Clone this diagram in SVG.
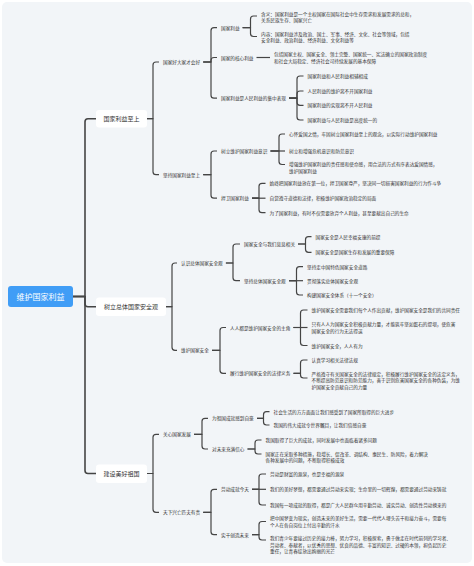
<svg xmlns="http://www.w3.org/2000/svg" width="474" height="566" viewBox="0 0 474 566">
<style>
.ln{fill:none;stroke:#454545;stroke-width:1.2;stroke-linejoin:round}
.l0{stroke-width:1.6}
.t{font-family:"Noto Sans CJK SC","Noto Sans",sans-serif;font-size:4.65px;fill:#333;dominant-baseline:central}
.t1{font-size:6px;text-anchor:middle}
.t0{font-size:8px;fill:#fff;text-anchor:middle}
.box{fill:#fff}
</style>
<rect x="0" y="0" width="474" height="566" fill="#fff"/>
<rect x="2" y="2" width="470" height="561" rx="5" fill="#f2f5f8"/>
<g id="connectors">
<path class="ln l0" d="M73 296.5 H85 V121.7 Q85 118.7 88 118.7 H96"/>
<path class="ln l0" d="M73 296.5 H85 V303.7 Q85 306.7 88 306.7 H96"/>
<path class="ln l0" d="M73 296.5 H85 V470.5 Q85 473.5 88 473.5 H96"/>
<path class="ln" d="M147 118.7 H153 V65 Q153 62 156 62 H159"/>
<path class="ln" d="M147 118.7 H153 V171.7 Q153 174.7 156 174.7 H159"/>
<path class="ln" d="M166 306.7 H172 V266 Q172 263 175 263 H177"/>
<path class="ln" d="M166 306.7 H172 V347.3 Q172 350.3 175 350.3 H177"/>
<path class="ln" d="M147 473.5 H153 V437.3 Q153 434.3 156 434.3 H159"/>
<path class="ln" d="M147 473.5 H153 V509.3 Q153 512.3 156 512.3 H159"/>
<path class="ln" d="M203.2 62 H211 V30.7 Q211 27.7 214 27.7 H217"/>
<path class="ln" d="M203.2 62 H211 V60.5 Q211 57.5 214 57.5 H217"/>
<path class="ln" d="M203.2 62 H211 V95.2 Q211 98.2 214 98.2 H217"/>
<path class="ln" d="M203.2 174.7 H211 V154 Q211 151 214 151 H217"/>
<path class="ln" d="M203.2 174.7 H211 V195.2 Q211 198.2 214 198.2 H217"/>
<path class="ln" d="M225.9 263 H233 V247 Q233 244 236 244 H240"/>
<path class="ln" d="M225.9 263 H233 V277.7 Q233 280.7 236 280.7 H240"/>
<path class="ln" d="M212 350.3 H220 V330.5 Q220 327.5 223 327.5 H226"/>
<path class="ln" d="M212 350.3 H220 V370.3 Q220 373.3 223 373.3 H226"/>
<path class="ln" d="M194 434.3 H202 V421.3 Q202 418.3 205 418.3 H208"/>
<path class="ln" d="M194 434.3 H202 V446 Q202 449 205 449 H208"/>
<path class="ln" d="M203.2 512.3 H211 V492.3 Q211 489.3 214 489.3 H217"/>
<path class="ln" d="M203.2 512.3 H211 V531.7 Q211 534.7 214 534.7 H217"/>
<path class="ln" d="M242.6 27.7 H250.5 V19 Q250.5 16 253.5 16 H257"/>
<path class="ln" d="M242.6 27.7 H250.5 V33.5 Q250.5 36.5 253.5 36.5 H257"/>
<path class="ln" d="M256.5 57.5 H270"/>
<path class="ln" d="M289 98.2 H297 V79 Q297 76 300 76 H303.5"/>
<path class="ln" d="M289 98.2 H297 V94 Q297 91 300 91 H303.5"/>
<path class="ln" d="M289 98.2 H297 V102.3 Q297 105.3 300 105.3 H303.5"/>
<path class="ln" d="M289 98.2 H297 V117 Q297 120 300 120 H303.5"/>
<path class="ln" d="M270.5 151 H279 V137 Q279 134 282 134 H285"/>
<path class="ln" d="M270.5 151 H285"/>
<path class="ln" d="M270.5 151 H279 V161.5 Q279 164.5 282 164.5 H285"/>
<path class="ln" d="M252 198.2 H259 V186.3 Q259 183.3 262 183.3 H265.5"/>
<path class="ln" d="M252 198.2 H265.5"/>
<path class="ln" d="M252 198.2 H259 V209.7 Q259 212.7 262 212.7 H265.5"/>
<path class="ln" d="M298 244 H305.5 V239.7 Q305.5 236.7 308.5 236.7 H311.5"/>
<path class="ln" d="M298 244 H305.5 V249.3 Q305.5 252.3 308.5 252.3 H311.5"/>
<path class="ln" d="M289 280.7 H296.5 V269.7 Q296.5 266.7 299.5 266.7 H303"/>
<path class="ln" d="M289 280.7 H303"/>
<path class="ln" d="M289 280.7 H296.5 V292 Q296.5 295 299.5 295 H303"/>
<path class="ln" d="M293.5 327.5 H300.5 V313 Q300.5 310 303.5 310 H307.5"/>
<path class="ln" d="M293.5 327.5 H307.5"/>
<path class="ln" d="M293.5 327.5 H300.5 V342.5 Q300.5 345.5 303.5 345.5 H307.5"/>
<path class="ln" d="M293.5 373.3 H300.5 V363 Q300.5 360 303.5 360 H307.5"/>
<path class="ln" d="M293.5 373.3 H300.5 V375 Q300.5 378 303.5 378 H307.5"/>
<path class="ln" d="M257 418.3 H263.5 V414.7 Q263.5 411.7 266.5 411.7 H269.5"/>
<path class="ln" d="M257 418.3 H263.5 V422 Q263.5 425 266.5 425 H269.5"/>
<path class="ln" d="M247.5 449 H255 V443 Q255 440 258 440 H261.5"/>
<path class="ln" d="M247.5 449 H255 V451 Q255 454 258 454 H261.5"/>
<path class="ln" d="M252 489.3 H259 V477 Q259 474 262 474 H266"/>
<path class="ln" d="M252 489.3 H266"/>
<path class="ln" d="M252 489.3 H259 V502 Q259 505 262 505 H266"/>
<path class="ln" d="M252 534.7 H259 V524.5 Q259 521.5 262 521.5 H266"/>
<path class="ln" d="M252 534.7 H259 V537 Q259 540 262 540 H266"/>
</g>
<g id="root"><rect x="8" y="286" width="65" height="21" rx="3" fill="#409df6"/><text class="t t0" x="40.5" y="296.5">维护国家利益</text></g>
<g id="n1"><rect class="box" x="96" y="110" width="51" height="17.5" rx="3"/><text class="t t1" x="121.5" y="118.7">国家利益至上</text></g>
<g id="n2"><rect class="box" x="96" y="297.5" width="70" height="18.5" rx="3"/><text class="t t1" x="131" y="306.7">树立总体国家安全观</text></g>
<g id="n3"><rect class="box" x="96" y="464.5" width="51" height="18.5" rx="3"/><text class="t t1" x="121.5" y="473.7">建设美好祖国</text></g>
<g id="n1a"><text class="t" x="163" y="62">国家好大家才会好</text></g>
<g id="n1b"><text class="t" x="163" y="174.7">坚持国家利益至上</text></g>
<g id="n2a"><text class="t" x="181" y="263">认识总体国家安全观</text></g>
<g id="n2b"><text class="t" x="181" y="350.3">维护国家安全</text></g>
<g id="n3a"><text class="t" x="163" y="434.3">关心国家发展</text></g>
<g id="n3b"><text class="t" x="163" y="512.3">天下兴亡匹夫有责</text></g>
<g id="n1a1"><text class="t" x="221" y="27.7">国家利益</text></g>
<g id="n1a2"><text class="t" x="221" y="57.5">国家的核心利益</text></g>
<g id="n1a3"><text class="t" x="221" y="98.2">国家利益是人民利益的集中表现</text></g>
<g id="n1b1"><text class="t" x="221" y="151">树立维护国家利益意识</text></g>
<g id="n1b2"><text class="t" x="221" y="198.2">捍卫国家利益</text></g>
<g id="n2a1"><text class="t" x="244" y="244">国家安全与我们息息相关</text></g>
<g id="n2a2"><text class="t" x="244" y="280.7">坚持总体国家安全观</text></g>
<g id="n2b1"><text class="t" x="230" y="327.5">人人都是维护国家安全的主角</text></g>
<g id="n2b2"><text class="t" x="230" y="373.3">履行维护国家安全的法律义务</text></g>
<g id="n3a1"><text class="t" x="212" y="418.3">为祖国成就感到自豪</text></g>
<g id="n3a2"><text class="t" x="212" y="449">对未来充满信心</text></g>
<g id="n3b1"><text class="t" x="221" y="489.3">劳动成就今天</text></g>
<g id="n3b2"><text class="t" x="221" y="534.7">实干创造未来</text></g>
<g id="leaf1"><text class="t"><tspan x="261" y="13.8">含义：国家利益是一个主权国家在国际社会中生存需求和发展需求的总和，</tspan><tspan x="261" y="20.1">关系民族生存、国家兴亡</tspan></text></g>
<g id="leaf2"><text class="t"><tspan x="261" y="33.5">内容：国家利益涉及政治、国土、军事、经济、文化、社会等领域，包括</tspan><tspan x="261" y="39.8">安全利益、政治利益、经济利益、文化利益等</tspan></text></g>
<g id="leaf3"><text class="t"><tspan x="274" y="54.3">包括国家主权、国家安全、领土完整、国家统一、宪法确立的国家政治制度</tspan><tspan x="274" y="60.6">和社会大局稳定、经济社会可持续发展的基本保障</tspan></text></g>
<g id="leaf4"><text class="t" x="307.5" y="76">国家利益和人民利益相辅相成</text></g>
<g id="leaf5"><text class="t" x="307.5" y="91">人民利益的维护离不开国家利益</text></g>
<g id="leaf6"><text class="t" x="307.5" y="105.3">国家利益的实现离不开人民利益</text></g>
<g id="leaf7"><text class="t" x="307.5" y="120">国家利益与人民利益是高度统一的</text></g>
<g id="leaf8"><text class="t" x="289" y="134">心怀爱国之情，牢固树立国家利益至上的观念，以实际行动维护国家利益</text></g>
<g id="leaf9"><text class="t" x="289" y="151">树立和增强危机意识和防范意识</text></g>
<g id="leaf10"><text class="t"><tspan x="289" y="164.2">增强维护国家利益的责任感和使命感，用合法的方式有序表达爱国情感，</tspan><tspan x="289" y="170.5">维护国家利益</tspan></text></g>
<g id="leaf11"><text class="t" x="269.5" y="183.3">始终把国家利益放在第一位，捍卫国家尊严，坚决同一切损害国家利益的行为作斗争</text></g>
<g id="leaf12"><text class="t" x="269.5" y="198.2">自觉遵守道德和法律，积极维护国家政治稳定的局面</text></g>
<g id="leaf13"><text class="t" x="269.5" y="212.7">为了国家利益，有时不仅需要放弃个人利益，甚至要献出自己的生命</text></g>
<g id="leaf14"><text class="t" x="315.5" y="236.7">国家安全是人民幸福安康的前提</text></g>
<g id="leaf15"><text class="t" x="315.5" y="252.3">国家安全是国家生存和发展的重要保障</text></g>
<g id="leaf16"><text class="t" x="307" y="266.7">坚持走中国特色国家安全道路</text></g>
<g id="leaf17"><text class="t" x="307" y="280.7">贯彻落实总体国家安全观</text></g>
<g id="leaf18"><text class="t" x="307" y="295">构建国家安全体系（十一个安全）</text></g>
<g id="leaf19"><text class="t" x="311.5" y="310">维护国家安全需要我们每个人作出贡献，维护国家安全是我们的共同责任</text></g>
<g id="leaf20"><text class="t"><tspan x="311.5" y="324.3">只有人人为国家安全积极贡献力量，才能筑牢坚如磐石的堤坝，使危害</tspan><tspan x="311.5" y="330.7">国家安全的行为无法得逞</tspan></text></g>
<g id="leaf21"><text class="t" x="311.5" y="345.5">维护国家安全，人人有为</text></g>
<g id="leaf22"><text class="t" x="311.5" y="360">认真学习相关法律法规</text></g>
<g id="leaf23"><text class="t"><tspan x="311.5" y="374">严格遵守有关国家安全的法律规定，积极履行维护国家安全的法定义务，</tspan><tspan x="311.5" y="380.3">不断提高防范意识和防范能力，善于识别危害国家安全的各种伪装，为维</tspan><tspan x="311.5" y="386.6">护国家安全贡献自己的力量</tspan></text></g>
<g id="leaf24"><text class="t" x="273.5" y="411.7">社会生活的方方面面让我们感受到了国家所取得的巨大进步</text></g>
<g id="leaf25"><text class="t" x="273.5" y="425">我国的伟大成就令世界瞩目，让我们倍感自豪</text></g>
<g id="leaf26"><text class="t" x="265.5" y="440">我国取得了巨大的成就，同时发展中也面临着诸多问题</text></g>
<g id="leaf27"><text class="t"><tspan x="265.5" y="454">国家正在采取多种措施，稳增长、促改革、调结构、惠民生、防风险，着力解决</tspan><tspan x="265.5" y="460.3">各种发展中的问题，不断取得积极成效</tspan></text></g>
<g id="leaf28"><text class="t" x="270" y="474">劳动是财富的源泉，也是幸福的源泉</text></g>
<g id="leaf29"><text class="t" x="270" y="489.3">我们的美好梦想，都需要通过劳动来实现；生命里的一切辉煌，都需要通过劳动来铸就</text></g>
<g id="leaf30"><text class="t" x="270" y="505">我国每一项成就的取得，都是广大人民群众用辛勤劳动、诚实劳动、创造性劳动换来的</text></g>
<g id="leaf31"><text class="t"><tspan x="270" y="518.4">把中国梦变为现实，创造未来的美好生活，需要一代代人埋头苦干和接力奋斗，需要每</tspan><tspan x="270" y="524.7">个人在各自岗位上付出辛勤的汗水</tspan></text></g>
<g id="leaf32"><text class="t"><tspan x="270" y="538.4">我们青少年要接过历史的接力棒，努力学习，积极探索，勇于做走在时代前列的学习者、</tspan><tspan x="270" y="544.7">劳动者、奉献者，以优秀的思想、优良的品德、丰富的知识、过硬的本领，担负起历史</tspan><tspan x="270" y="551">重任，让青春绽放出绚丽的光芒</tspan></text></g>
</svg>
